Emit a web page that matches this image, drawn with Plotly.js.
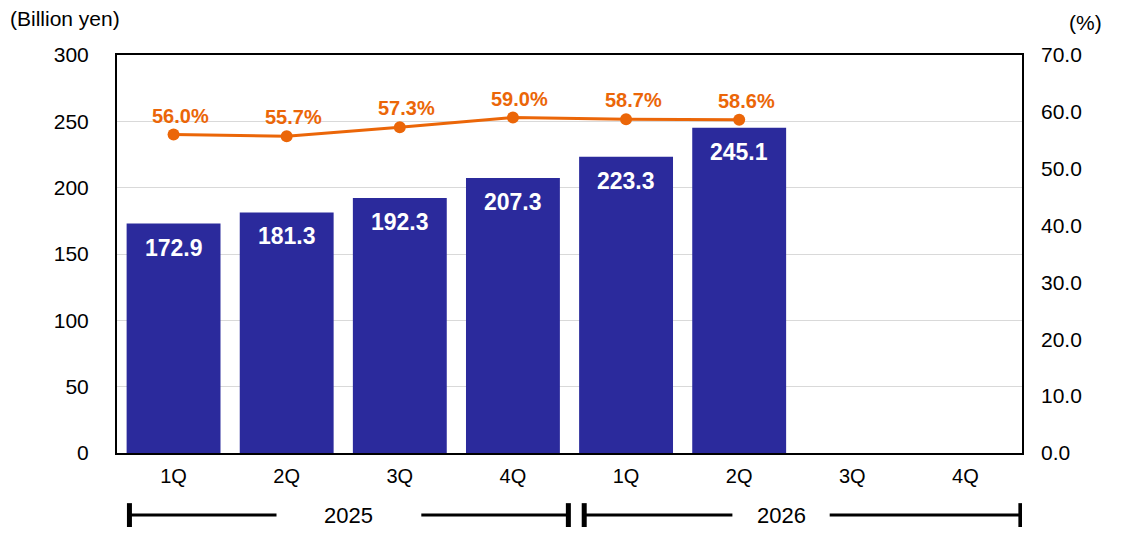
<!DOCTYPE html>
<html>
<head>
<meta charset="utf-8">
<script src="https://cdn.plot.ly/plotly-3.0.1.min.js"></script>
<style>
  body { margin: 0; background: #fff; }
  #chart { width: 1136px; height: 556px; }
</style>
</head>
<body>
<div id="chart"></div>
<script>
// data
let quarters = ['1Q', '2Q', '3Q', '4Q', '1Q', '2Q', '3Q', '4Q']
let sales = [172.9, 181.3, 192.3, 207.3, 223.3, 245.1]
let ratio = [56.0, 55.7, 57.3, 59.0, 58.7, 58.6]
let years = ['2025', '2026']

let idx = quarters.map((q, i) => i)

let BLUE = '#2B2A9C'
let ORANGE = '#EB6608'
let FONT = 'Liberation Sans, Arial, sans-serif'

var bars = {
  x: idx.slice(0, sales.length),
  y: sales,
  type: 'bar',
  marker: { color: BLUE },
  hoverinfo: 'none',
  showlegend: false
}

var line = {
  x: idx.slice(0, ratio.length),
  y: ratio,
  yaxis: 'y2',
  mode: 'lines+markers',
  line: { color: ORANGE, width: 3 },
  marker: { color: ORANGE, size: 12 },
  cliponaxis: false,
  hoverinfo: 'none',
  showlegend: false
}

// white labels inside the bars
let annotations = sales.map((v, i) => ({
  x: i, y: v, xref: 'x', yref: 'y',
  text: '<b>' + v.toFixed(1) + '</b>',
  showarrow: false, yanchor: 'top', yshift: -9,
  font: { family: FONT, size: 23, color: '#fff' }
}))

// orange labels over the ratio points
ratio.forEach((v, i) => annotations.push({
  x: i, y: v, xref: 'x', yref: 'y2',
  text: '<b>' + v.toFixed(1) + '%</b>',
  showarrow: false, yanchor: 'middle', yshift: 19, xshift: 7,
  font: { family: FONT, size: 20, color: ORANGE }
}))

annotations.push({
  xref: 'paper', yref: 'paper', x: -0.12, y: 1.0, yshift: 37,
  xanchor: 'left', yanchor: 'middle', showarrow: false,
  text: '(Billion yen)', font: { family: FONT, size: 21, color: '#000' }
})
annotations.push({
  xref: 'paper', yref: 'paper', x: 1.05, y: 1.0, yshift: 33,
  xanchor: 'left', yanchor: 'middle', showarrow: false,
  text: '(%)', font: { family: FONT, size: 21, color: '#000' }
})

// year brackets under the quarter labels
let bracketY = -0.156
let capH = 0.03
let brackets = [
  { from: -0.39, to: 3.49, mid: 1.55, gap: 0.64 },
  { from: 3.63, to: 7.49, mid: 5.37, gap: 0.43 }
]
let shapes = []
brackets.forEach((b, i) => {
  let seg = (x0, x1, y0, y1, w) => shapes.push({
    type: 'line', xref: 'x', yref: 'paper', x0: x0, x1: x1, y0: y0, y1: y1,
    line: { color: '#000', width: w }
  })
  seg(b.from, b.mid - b.gap, bracketY, bracketY, 3)
  seg(b.mid + b.gap, b.to, bracketY, bracketY, 3)
  seg(b.from, b.from, bracketY - capH, bracketY + capH, 5)
  seg(b.to, b.to, bracketY - capH, bracketY + capH, 5)
  annotations.push({
    x: b.mid, y: bracketY, xref: 'x', yref: 'paper', showarrow: false,
    xanchor: 'center', yanchor: 'middle',
    text: years[i], font: { family: FONT, size: 22, color: '#000' }
  })
})

var layout = {
  width: 1136,
  height: 556,
  margin: { l: 117, r: 114, t: 55, b: 103 },
  paper_bgcolor: '#fff',
  plot_bgcolor: '#fff',
  font: { family: FONT, size: 21, color: '#000' },
  bargap: 0.17,
  xaxis: {
    range: [-0.5, 7.5],
    tickvals: idx,
    ticktext: quarters,
    showgrid: false,
    zeroline: false,
    showline: true, mirror: true, linecolor: '#000', linewidth: 2,
    ticks: '',
    ticklabelstandoff: 4,
    tickfont: { size: 20 },
    fixedrange: true
  },
  yaxis: {
    range: [0, 300],
    dtick: 50,
    showgrid: true, gridcolor: '#D9D9D9', gridwidth: 1,
    zeroline: false,
    showline: true, mirror: true, linecolor: '#000', linewidth: 2,
    ticks: '',
    ticklabelstandoff: 22,
    tickfont: { size: 21 }
  },
  yaxis2: {
    range: [0, 70],
    dtick: 10,
    tickformat: '.1f',
    overlaying: 'y',
    side: 'right',
    showgrid: false,
    zeroline: false,
    ticks: '',
    ticklabelstandoff: 18,
    tickfont: { size: 21 }
  },
  annotations: annotations,
  shapes: shapes
}

Plotly.newPlot('chart', [bars, line], layout, { displayModeBar: false, staticPlot: true })
</script>
</body>
</html>
